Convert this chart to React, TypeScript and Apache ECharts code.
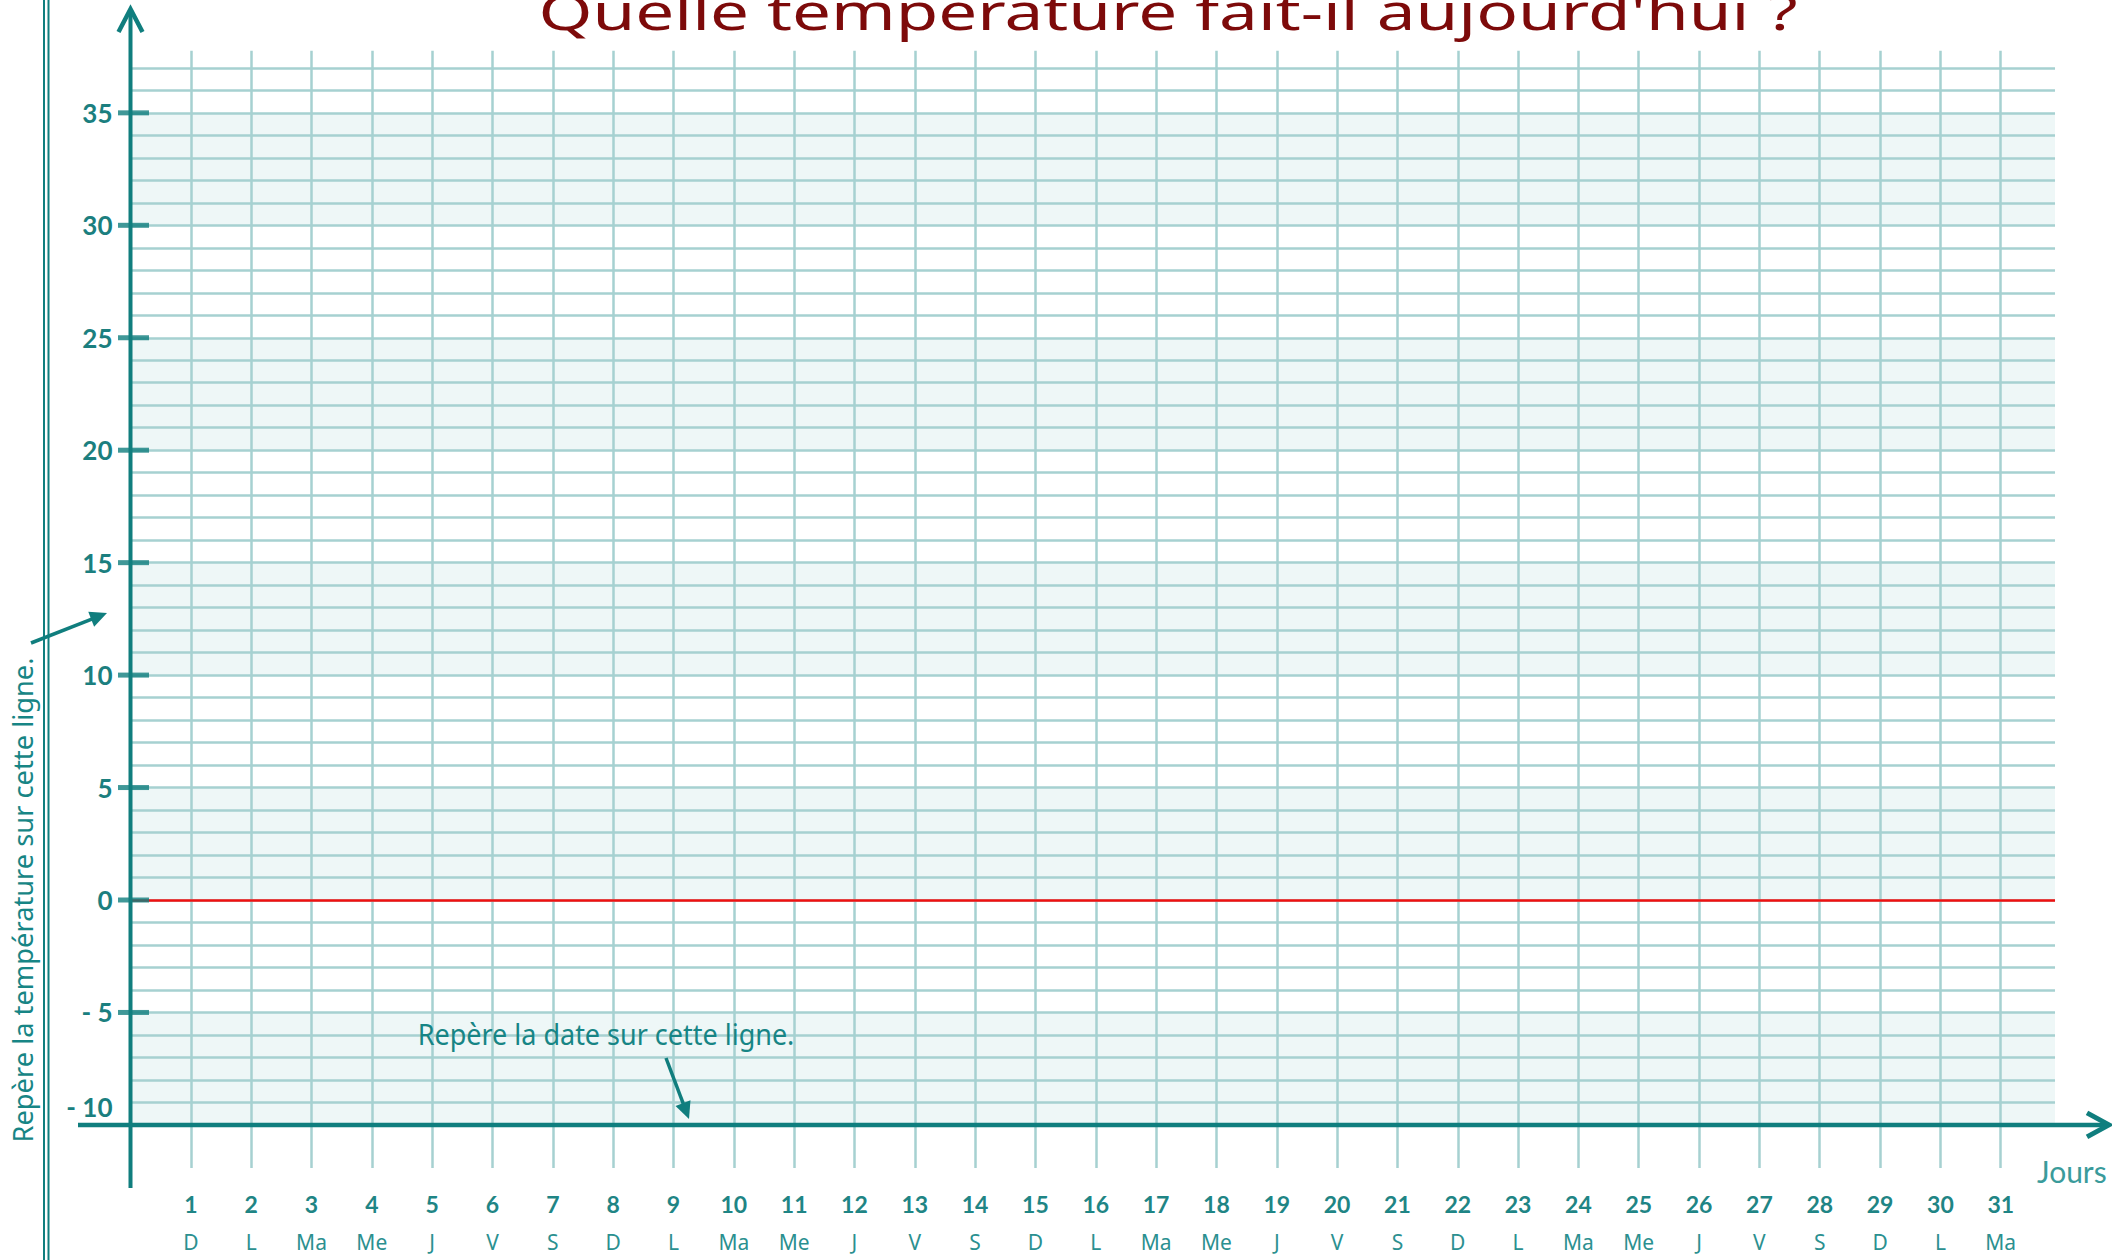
import React, { useEffect, useRef } from 'react';
import * as echarts from 'echarts';

// ---------- data ----------
const dayNumbers = [1, 2, 3, 4, 5, 6, 7, 8, 9, 10, 11, 12, 13, 14, 15, 16, 17, 18, 19, 20, 21, 22, 23, 24, 25, 26, 27, 28, 29, 30, 31];
const weekdays = ['D', 'L', 'Ma', 'Me', 'J', 'V', 'S', 'D', 'L', 'Ma', 'Me', 'J', 'V', 'S', 'D', 'L', 'Ma', 'Me', 'J', 'V', 'S', 'D', 'L', 'Ma', 'Me', 'J', 'V', 'S', 'D', 'L', 'Ma'];
const tempLabelValues = [-10, -5, 0, 5, 10, 15, 20, 25, 30, 35];
const tempLabelTexts = ['- 10', '- 5', '0', '5', '10', '15', '20', '25', '30', '35'];
const tempMajorTicks = [-5, 0, 5, 10, 15, 20, 25, 30, 35];
const shadedBands = [[-10, -5], [0, 5], [10, 15], [20, 25], [30, 35]];
const freezingLine = [0];
const tempMin = -10;
const tempMax = 37;
const dayMin = 0;
const dayMax = 31.9;
const titleText = "Quelle température fait-il aujourd'hui ?";
const yNote = 'Repère la température sur cette ligne.';
const xNote = 'Repère la date sur cette ligne.';
const xName = 'Jours';

// ---------- layout ----------
const W = 2112;
const H = 1260;
const AX = 130.5; // pixel of day 0 / y axis
const DAY_PX = 60.33;
const Y_ZERO = 900;
const DEG_PX = 22.49;
const GB_TOP = Y_ZERO - tempMax * DEG_PX;
const GB_BOTTOM = Y_ZERO - tempMin * DEG_PX;
const GA_TOP = 50.7;
const GA_BOTTOM = 1168;
const PLOT_W = (dayMax - dayMin) * DAY_PX;

const TEAL = '#107e7e';
const GRID_LINE = '#a6d1d1';
const SHADE = '#eef7f7';
const NUM_FONT = 'Lato, "Open Sans", sans-serif';
const HAND_FONT = '"Noto Sans", "DejaVu Sans", sans-serif';

function measure(text: string, font: string): number {
  const c = document.createElement('canvas').getContext('2d');
  if (!c) return text.length * 10;
  c.font = font;
  return c.measureText(text).width;
}

function arrow(x1: number, y1: number, x2: number, y2: number, headLen: number, headHalf: number, color: string, width: number) {
  const dx = x2 - x1;
  const dy = y2 - y1;
  const len = Math.sqrt(dx * dx + dy * dy);
  const ux = dx / len;
  const uy = dy / len;
  const bx = x2 - ux * headLen;
  const by = y2 - uy * headLen;
  const px = -uy;
  const py = ux;
  return [
    {
      type: 'line',
      z: 20,
      shape: { x1, y1, x2: bx + ux * 2, y2: by + uy * 2 },
      style: { stroke: color, lineWidth: width },
    },
    {
      type: 'polygon',
      z: 20,
      shape: { points: [[x2, y2], [bx + px * headHalf, by + py * headHalf], [bx - px * headHalf, by - py * headHalf]] },
      style: { fill: color },
    },
  ];
}

export default function App() {
  const ref = useRef<HTMLDivElement>(null);

  useEffect(() => {
    if (!ref.current) return;
    const chart = echarts.init(ref.current, undefined, { renderer: 'svg' });

    const titleSize = 50;
    const titleScale = 1259 / measure(titleText, `${titleSize}px "Noto Sans"`);
    const yNoteSize = 28;
    const yNoteScale = 485 / measure(yNote, `${yNoteSize}px "Noto Sans"`);
    const xNoteSize = 30;
    const xNoteScale = 377 / measure(xNote, `${xNoteSize}px "Noto Sans"`);

    const labelStyle = { fontFamily: NUM_FONT, fontWeight: 'bold', fontSize: 26, color: '#1b7f7f' };

    const graphics: any[] = [
      // double border on the left
      { type: 'line', z: 20, shape: { x1: 44, y1: 0, x2: 44, y2: H }, style: { stroke: TEAL, lineWidth: 2 } },
      { type: 'line', z: 20, shape: { x1: 48.5, y1: 0, x2: 48.5, y2: H }, style: { stroke: TEAL, lineWidth: 2 } },
      // y axis
      { type: 'line', z: 20, shape: { x1: AX, y1: 1188, x2: AX, y2: 10 }, style: { stroke: TEAL, lineWidth: 4 } },
      { type: 'polyline', z: 20, shape: { points: [[AX - 12, 32], [AX, 9], [AX + 12, 32]] }, style: { stroke: TEAL, lineWidth: 4.5, fill: null } },
      // x axis
      { type: 'line', z: 20, shape: { x1: 78, y1: GB_BOTTOM, x2: 2107, y2: GB_BOTTOM }, style: { stroke: TEAL, lineWidth: 4.5 } },
      { type: 'polyline', z: 20, shape: { points: [[2087, GB_BOTTOM - 12], [2109, GB_BOTTOM], [2087, GB_BOTTOM + 12]] }, style: { stroke: TEAL, lineWidth: 5, fill: null } },
      // title
      {
        type: 'text', z: 20, x: 1168, y: 11, scaleX: titleScale,
        style: { text: titleText, x: 0, y: 0, align: 'center', textAlign: 'center', verticalAlign: 'middle', textVerticalAlign: 'middle', fontSize: titleSize, fontFamily: HAND_FONT, fill: '#7d0a0a' },
      },
      // y note
      {
        type: 'text', z: 20, x: 22, y: 900, rotation: Math.PI / 2, scaleX: yNoteScale,
        style: { text: yNote, x: 0, y: 0, align: 'center', textAlign: 'center', verticalAlign: 'middle', textVerticalAlign: 'middle', fontSize: yNoteSize, fontFamily: HAND_FONT, fill: '#178585' },
      },
      ...arrow(31, 643, 107, 613, 17, 8, TEAL, 3.5),
      // x note
      {
        type: 'text', z: 20, x: 606, y: 1033, scaleX: xNoteScale,
        style: { text: xNote, x: 0, y: 0, align: 'center', textAlign: 'center', verticalAlign: 'middle', textVerticalAlign: 'middle', fontSize: xNoteSize, fontFamily: HAND_FONT, fill: '#178585' },
      },
      ...arrow(666, 1058, 689, 1119, 17, 8, TEAL, 3.5),
      // axis name
      {
        type: 'text', z: 20, x: 2037, y: 1171,
        style: { text: xName, x: 0, y: 0, align: 'left', textAlign: 'left', verticalAlign: 'middle', textVerticalAlign: 'middle', fontSize: 30, fontFamily: NUM_FONT, fill: '#3a9b9b' },
      },
    ];

    const option: any = {
      animation: false,
      backgroundColor: '#ffffff',
      grid: [
        { left: AX, width: PLOT_W, top: GA_TOP, height: GA_BOTTOM - GA_TOP, containLabel: false, outerBoundsMode: 'none' },
        { left: AX, width: PLOT_W, top: GB_TOP, height: GB_BOTTOM - GB_TOP, containLabel: false, outerBoundsMode: 'none' },
      ],
      xAxis: [
        {
          gridIndex: 0, type: 'value', position: 'bottom', offset: 0, min: dayMin, max: dayMax, interval: 1, z: 3,
          axisLine: { show: false },
          axisTick: { show: false, customValues: dayNumbers },
          splitLine: { show: true, lineStyle: { color: GRID_LINE, width: 2.5 } },
          axisLabel: {
            customValues: dayNumbers,
            margin: 24,
            fontFamily: NUM_FONT, fontWeight: 'bold', fontSize: 23, color: '#1f8585',
            formatter: (v: number) => (dayNumbers.indexOf(v) >= 0 ? String(v) : ''),
          },
        },
        {
          gridIndex: 0, type: 'value', position: 'bottom', offset: 0, min: dayMin, max: dayMax, interval: 1, z: 3,
          axisLine: { show: false },
          axisTick: { show: false },
          splitLine: { show: false },
          axisLabel: {
            customValues: dayNumbers,
            margin: 63,
            fontFamily: HAND_FONT, fontSize: 21, color: '#2b9090',
            formatter: (v: number) => {
              const i = dayNumbers.indexOf(v);
              return i >= 0 ? weekdays[i] : '';
            },
          },
        },
        { gridIndex: 1, type: 'value', min: dayMin, max: dayMax, show: false },
      ],
      yAxis: [
        { gridIndex: 0, type: 'value', min: 0, max: 1, show: false },
        {
          gridIndex: 1, type: 'value', min: tempMin, max: tempMax, interval: 1, z: 3,
          axisLine: { show: false },
          axisTick: { show: false },
          splitLine: { show: true, lineStyle: { color: GRID_LINE, width: 2.5 } },
          axisLabel: {
            customValues: tempLabelValues,
            margin: 18,
            ...labelStyle,
            formatter: (v: number) => {
              const i = tempLabelValues.indexOf(v);
              if (i < 0) return '';
              return v === tempMin ? `{up|${tempLabelTexts[i]}}` : tempLabelTexts[i];
            },
            rich: { up: { ...labelStyle, padding: [0, 0, 36, 0] } },
          },
        },
      ],
      series: [
        {
          type: 'line', xAxisIndex: 2, yAxisIndex: 1, data: [], z: 0, silent: true,
          markArea: {
            silent: true,
            itemStyle: { color: SHADE },
            data: shadedBands.map(([a, b]) => [{ yAxis: a }, { yAxis: b }]),
          },
        },
        {
          type: 'line', xAxisIndex: 2, yAxisIndex: 1, data: [], z: 8, silent: true,
          markLine: {
            silent: true,
            symbol: ['none', 'none'],
            label: { show: false },
            lineStyle: { color: '#f01010', width: 2.5, type: 'solid' },
            data: freezingLine.map((v) => ({ yAxis: v })),
          },
        },
        {
          type: 'scatter', xAxisIndex: 2, yAxisIndex: 1, z: 9, silent: true, clip: false,
          symbol: 'rect', symbolSize: [31, 5], symbolOffset: [3, 0],
          itemStyle: { color: TEAL },
          data: tempMajorTicks.map((v) => [dayMin, v]),
        },
      ],
      graphic: graphics,
    };

    chart.setOption(option);
    return () => chart.dispose();
  }, []);

  return <div ref={ref} style={{ position: 'fixed', left: 0, top: 0, width: W, height: H }} />;
}
